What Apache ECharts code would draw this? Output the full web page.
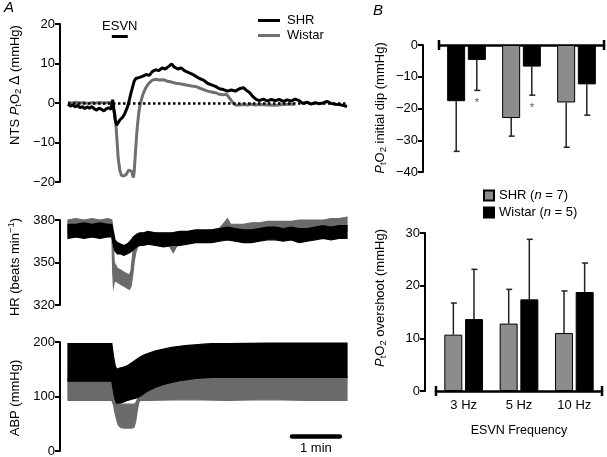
<!DOCTYPE html>
<html><head><meta charset="utf-8">
<script src="https://cdn.jsdelivr.net/npm/echarts@6/dist/echarts.min.js"></script>
<style>html,body{margin:0;padding:0;background:#fff}#c{width:607px;height:457px}</style>
</head><body><div id="c"></div>
<script>
// ---------- Panel A: NTS PtO2 traces (time in s, value in mmHg) ----------
const tPtShr = [0,3,6,9,12,15,18,21,24,27,30,33,36,39,42,45,48,51,54,56,57,59,61,63,65,67,69,71,73,75,77,79,81,83,85,87,90,94,98,102,106,110,114,118,122,126,130,134,138,142,146,150,155,160,165,170,175,180,185,190,195,200,205,210,215,220,224,228,232,236,240,245,250,255,260,265,270,275,280,285,290,295,300,305,310,315,320,325,330,335,340,345,350];
const vPtShr = [-0.3,-0.8,-0.5,-1.0,-0.6,-1.2,-0.9,-1.4,-1.0,-1.3,-0.9,-1.5,-1.8,-1.3,-1.6,-2.0,-1.5,-1.2,-1.6,0.8,-0.5,-4.0,-5.6,-5.0,-4.3,-4.0,-3.5,-2.8,-1.8,-0.8,0.8,2.5,4.0,5.5,6.2,6.0,6.5,6.8,7.2,7.0,8.0,8.4,8.2,8.9,8.6,9.2,9.9,9.0,8.6,8.9,8.2,7.8,7.4,6.8,6.2,5.8,5.0,4.6,4.2,3.6,3.4,3.0,3.3,3.0,3.6,3.9,3.2,2.6,1.6,0.9,0.6,1.0,0.5,0.9,0.6,0.9,0.4,0.8,0.5,1.0,0.6,-0.1,0.2,-0.3,0.1,-0.2,0.0,0.4,-0.1,-0.3,-0.4,-0.6,-0.9];
const tPtWis = [0,5,10,15,20,25,30,35,40,45,50,55,57,59,60,61,62,63,65,67,70,73,76,78,80,82,83,84,85,86,87,88,89,90,92,94,97,100,103,106,110,115,120,125,130,135,140,145,150,155,160,165,170,175,180,185,190,195,199,202,205,208,211,215,220,225,230,235,240,250,260,270,280,285];
const vPtWis = [0.1,0,0.2,0,0.1,-0.1,0.1,0,0.1,0,0.1,0,-0.3,-3,-5,-8,-11,-14,-17,-18.3,-18.5,-18.1,-17.0,-16.6,-17.3,-18.9,-17.5,-14.5,-11.5,-8.5,-6,-4,-2.2,-1.0,0.8,2.2,3.6,4.6,5.3,5.8,6.0,5.8,5.9,5.5,5.3,5.0,4.9,4.7,4.5,4.3,4.2,3.8,3.4,3.0,2.8,2.6,2.2,2.1,2.2,1.4,0.6,-0.2,-0.6,-0.5,-0.4,-0.5,-0.3,-0.5,-0.4,-0.5,-0.6,-0.4,-0.3,-0.3];
const esvnPeriod = [55, 75];
const scaleBar = [281, 341];

// ---------- Panel A: HR bands (beats/min) ----------
const tHrShr = [0,10,20,30,40,50,55,57,59,62,66,70,74,78,82,86,90,95,100,110,120,130,140,150,160,170,180,190,200,210,220,230,240,250,260,270,280,290,300,310,320,330,340,350];
const hrShrLo = [367,368,367,368,367,368,368,362,358,356,356,355,356,357,359,361,362,362,363,362,361,362,362,363,364,364,364,365,366,365,364,364,365,366,366,365,366,364,365,366,367,366,367,367];
const hrShrHi = [377,377,378,377,378,377,377,372,366,364,363,362,363,365,368,370,371,371,372,371,371,371,372,372,373,373,373,374,375,374,373,373,374,375,375,374,375,374,374,375,376,375,376,376];
const tHrWis = [0,10,20,30,40,50,55,56,57,58,60,62,65,68,71,74,77,79,81,83,85,88,92,100,110,120,128,132,136,140,150,160,170,180,190,196,200,204,210,220,230,240,250,260,270,280,290,300,310,320,330,340,350];
const hrWisLo = [371,372,371,372,371,372,372,345,333,336,337,336,335,334,333,332,331,333,340,350,357,362,363,364,364,363,361,357,361,363,364,365,365,366,367,368,369,368,369,368,369,369,370,370,371,371,370,371,371,372,372,372,372];
const hrWisHi = [380,381,380,381,380,381,380,376,362,350,348,346,345,344,343,342,341,344,355,363,366,368,369,370,370,369,368,366,368,370,371,372,372,373,374,378,381,377,377,377,378,378,379,379,379,379,380,380,380,380,381,381,382];

// ---------- Panel A: ABP bands (mmHg) ----------
const tAbpShr = [0,50,55,57,59,61,65,70,75,80,85,90,95,100,110,120,130,140,150,160,170,180,200,250,300,350];
const abpShrLo = [128,128,128,110,95,88,88,90,93,95,97,100,105,110,117,122,126,129,131,133,134,135,135,135,135,135];
const abpShrHi = [197,197,197,175,158,150,152,154,157,162,167,172,176,179,184,187,190,192,194,195,196,197,197,198,198,198];
const tAbpWis = [0,50,55,57,59,61,63,66,70,75,80,83,85,87,89,91,95,100,150,200,250,300,350];
const abpWisLo = [93,93,93,85,70,58,48,43,42,42,42,44,55,75,90,93,93,93,94,93,94,93,93];
const abpWisHi = [134,134,134,120,95,88,86,86,86,86,86,86,88,95,105,110,115,120,134,136,136,136,136];

// ---------- Panel B ----------
const freqs = ['3 Hz', '5 Hz', '10 Hz'];
const dipShr = [-17.7, -23.0, -18.1];
const dipShrErrEnd = [-33.5, -28.7, -32.2];
const dipWis = [-4.7, -6.8, -12.4];
const dipWisErrEnd = [-14.3, -15.8, -22.1];
const dipSig = [true, true, false];
const overShr = [10.7, 12.8, 11.0];
const overShrErrEnd = [16.7, 19.3, 19.0];
const overWis = [13.65, 17.4, 18.8];
const overWisErrEnd = [23.1, 28.8, 24.3];

const FONT = 'Liberation Sans';
const FS = 13;
const GREY_LINE = '#6f6f6f';
const GREY_BAR = '#8c8c8c';
const minus = v => String(v).replace('-', '\u2212');

function zip(t, v) { return t.map((x, i) => [x, v[i]]); }

function band(gi, t, lo, hi, color, z) {
  return {
    type: 'custom', xAxisIndex: gi, yAxisIndex: gi, z: z, silent: true,
    data: [[t[0], lo[0]]],
    renderItem: function (p, api) {
      const pts = [];
      for (let i = 0; i < t.length; i++) pts.push(api.coord([t[i], lo[i]]));
      for (let i = t.length - 1; i >= 0; i--) pts.push(api.coord([t[i], hi[i]]));
      return { type: 'polygon', shape: { points: pts }, style: { fill: color, stroke: color, lineWidth: 1.2 } };
    }
  };
}

function errBars(gi, means, ends, side, sig) {
  return {
    type: 'custom', xAxisIndex: gi, yAxisIndex: gi, z: 4, silent: true,
    data: means.map((m, i) => [i, m, ends[i]]),
    encode: { x: 0, y: [1, 2] },
    renderItem: function (p, api) {
      const i = api.value(0);
      const a = api.coord([i, api.value(1)]);
      const b = api.coord([i, api.value(2)]);
      const x = a[0] + side * 10.3;
      const ch = [
        { type: 'line', shape: { x1: x, y1: a[1], x2: x, y2: b[1] }, style: { stroke: '#222', lineWidth: 1.5 } },
        { type: 'line', shape: { x1: x - 2.5, y1: b[1], x2: x + 3.5, y2: b[1] }, style: { stroke: '#222', lineWidth: 1.5 } }
      ];
      if (sig && sig[i]) {
        ch.push({ type: 'text', x: x, y: b[1] + 13, style: { text: '*', fill: '#555', fontSize: 11, fontFamily: FONT, align: 'center', verticalAlign: 'middle' } });
      }
      return { type: 'group', children: ch };
    }
  };
}

const yA = (gi, min, max, interval) => ({
  gridIndex: gi, type: 'value', min: min, max: max, interval: interval,
  axisLine: { show: true, onZero: false, lineStyle: { color: '#000', width: 2 } },
  axisTick: { show: true, length: 5, lineStyle: { color: '#000', width: 2 } },
  axisLabel: { color: '#000', fontSize: FS, fontFamily: FONT, margin: 5, formatter: minus },
  splitLine: { show: false }
});
const xHidden = gi => ({ gridIndex: gi, type: 'value', min: -10, max: 350, show: false });

const rich = {
  i: { fontStyle: 'italic', fontSize: FS, fontFamily: FONT, lineHeight: 17, fill: '#000' },
  sub: { fontSize: 9.5, fontFamily: FONT, lineHeight: 10, verticalAlign: 'bottom', fill: '#000' },
  sup: { fontSize: 9.5, fontFamily: FONT, lineHeight: 10, verticalAlign: 'top', fill: '#000' },
  d: { fontSize: 14, fontFamily: FONT, lineHeight: 17, fill: '#000' }
};
function vtext(x, y, text) {
  return { type: 'text', x: x, y: y, rotation: Math.PI / 2,
    style: { text: text, rich: rich, fontSize: FS, fontFamily: FONT, lineHeight: 17, fill: '#000', align: 'center', verticalAlign: 'middle' } };
}

const chart = echarts.init(document.getElementById('c'), null, { renderer: 'canvas' });
const option = {
  animation: false,
  backgroundColor: '#fff',
  textStyle: { fontFamily: FONT },
  grid: [
    { left: 60, top: 24, width: 287, height: 158, outerBoundsMode: 'none' },
    { left: 60, top: 220, width: 287, height: 85, outerBoundsMode: 'none' },
    { left: 60, top: 342, width: 287, height: 109, outerBoundsMode: 'none' },
    { left: 439, top: 45, width: 165, height: 127, outerBoundsMode: 'none' },
    { left: 436, top: 233, width: 166, height: 158, outerBoundsMode: 'none' }
  ],
  xAxis: [
    xHidden(0), xHidden(1), xHidden(2),
    { gridIndex: 3, type: 'category', data: freqs, position: 'top',
      axisLine: { show: true, onZero: false, symbol: ['rect', 'rect'], symbolSize: [10, 2.5], lineStyle: { color: '#000', width: 2.5 } },
      axisTick: { show: false }, axisLabel: { show: false } },
    { gridIndex: 4, type: 'category', data: freqs, position: 'bottom',
      axisLine: { show: true, onZero: false, symbol: ['rect', 'rect'], symbolSize: [10, 2.5], lineStyle: { color: '#000', width: 2.5 } },
      axisTick: { show: false },
      axisLabel: { color: '#000', fontSize: FS, fontFamily: FONT, margin: 8 },
      name: 'ESVN Frequency', nameLocation: 'middle', nameGap: 33,
      nameTextStyle: { color: '#000', fontSize: 12.5, fontFamily: FONT } }
  ],
  yAxis: [
    yA(0, -20, 20, 10),
    yA(1, 320, 380, 30),
    yA(2, 0, 200, 100),
    Object.assign(yA(3, -40, 0, 10), { offset: 16 }),
    Object.assign(yA(4, 0, 30, 10), { offset: 11 })
  ],
  legend: [
    { data: ['SHR', 'Wistar'], left: 258, top: 14, padding: 0, orient: 'vertical', itemGap: 2,
      icon: 'rect', itemWidth: 22, itemHeight: 3,
      textStyle: { color: '#000', fontSize: FS, fontFamily: FONT, padding: [0, 0, 0, 2] } },
    { data: ['SHR (n = 7)', 'Wistar (n = 5)'], left: 483, top: 189, padding: 0, orient: 'vertical', itemGap: 4,
      icon: 'rect', itemWidth: 10, itemHeight: 10,
      formatter: name => name.replace('(n =', '({i|n} ='),
      textStyle: { color: '#000', fontSize: FS, fontFamily: FONT, rich: { i: { fontStyle: 'italic', fontSize: FS, fontFamily: FONT, color: '#000' } } } }
  ],
  graphic: [
    { type: 'text', x: 4, y: 0, style: { text: 'A', fontSize: 15, fontStyle: 'italic', fontFamily: FONT, fill: '#000' } },
    { type: 'text', x: 373, y: 3, style: { text: 'B', fontSize: 15, fontStyle: 'italic', fontFamily: FONT, fill: '#000' } },
    vtext(15, 85, 'NTS {i|P}{sub|t}O{sub|2} {d|\u0394} (mmHg)'),
    vtext(15, 267, 'HR (beats min{sup|\u22121})'),
    vtext(15, 398, 'ABP (mmHg)'),
    vtext(380, 108, '{i|P}{sub|t}O{sub|2} initial dip (mmHg)'),
    vtext(380, 298, '{i|P}{sub|t}O{sub|2} overshoot (mmHg)')
  ],
  series: [
    // PtO2
    { type: 'line', name: 'Wistar', xAxisIndex: 0, yAxisIndex: 0, z: 3, data: zip(tPtWis, vPtWis),
      showSymbol: false, symbol: 'none', color: GREY_LINE, lineStyle: { color: GREY_LINE, width: 3 },
      markLine: { silent: true, symbol: ['none', 'none'], label: { show: false },
        lineStyle: { color: '#000', width: 2.5, type: [2.5, 2.5] },
        data: [[{ coord: [0, 0] }, { coord: [350, 0] }]] } },
    { type: 'line', name: 'SHR', xAxisIndex: 0, yAxisIndex: 0, z: 4, data: zip(tPtShr, vPtShr),
      showSymbol: false, symbol: 'none', color: '#000', lineStyle: { color: '#000', width: 3 },
      markLine: { silent: true, symbol: ['none', 'none'],
        lineStyle: { color: '#000', width: 3, type: 'solid' },
        label: { show: true, formatter: 'ESVN', position: 'middle', distance: 3, color: '#000', fontSize: FS, fontFamily: FONT },
        data: [[{ coord: [esvnPeriod[0], 17] }, { coord: [esvnPeriod[1], 17] }]] } },
    // HR
    band(1, tHrWis, hrWisLo, hrWisHi, '#6a6a6a', 2),
    band(1, tHrShr, hrShrLo, hrShrHi, '#000', 3),
    // ABP
    band(2, tAbpWis, abpWisLo, abpWisHi, '#6a6a6a', 2),
    band(2, tAbpShr, abpShrLo, abpShrHi, '#000', 3),
    { type: 'line', xAxisIndex: 2, yAxisIndex: 2, z: 5, data: [], symbol: 'none',
      markLine: { silent: true, symbol: ['none', 'none'],
        lineStyle: { color: '#000', width: 4.5, type: 'solid', cap: 'round' },
        label: { show: true, formatter: '1 min', position: 'insideMiddleBottom', distance: 6, color: '#000', fontSize: FS, fontFamily: FONT },
        data: [[{ coord: [scaleBar[0], 27.5] }, { coord: [scaleBar[1], 27.5] }]] } },
    // B top: initial dip
    { type: 'bar', name: 'SHR (n = 7)', xAxisIndex: 3, yAxisIndex: 3, barWidth: 18, barGap: '15%', z: 3,
      color: GREY_BAR, itemStyle: { color: GREY_BAR, borderColor: '#000', borderWidth: 1 },
      data: dipShr.map((v, i) => i === 0 ? { value: v, itemStyle: { color: '#000' } } : v) },
    { type: 'bar', name: 'Wistar (n = 5)', xAxisIndex: 3, yAxisIndex: 3, barWidth: 18, barGap: '15%', z: 3,
      color: '#000', itemStyle: { color: '#000', borderColor: '#000', borderWidth: 1 }, data: dipWis },
    errBars(3, dipShr, dipShrErrEnd, -1, null),
    errBars(3, dipWis, dipWisErrEnd, 1, dipSig),
    // B bottom: overshoot
    { type: 'bar', name: 'SHR (n = 7)', xAxisIndex: 4, yAxisIndex: 4, barWidth: 18, barGap: '15%', z: 3,
      color: GREY_BAR, itemStyle: { color: GREY_BAR, borderColor: '#000', borderWidth: 1 }, data: overShr },
    { type: 'bar', name: 'Wistar (n = 5)', xAxisIndex: 4, yAxisIndex: 4, barWidth: 18, barGap: '15%', z: 3,
      color: '#000', itemStyle: { color: '#000', borderColor: '#000', borderWidth: 1 }, data: overWis },
    errBars(4, overShr, overShrErrEnd, -1, null),
    errBars(4, overWis, overWisErrEnd, 1, null)
  ]
};
chart.setOption(option);
</script></body></html>
